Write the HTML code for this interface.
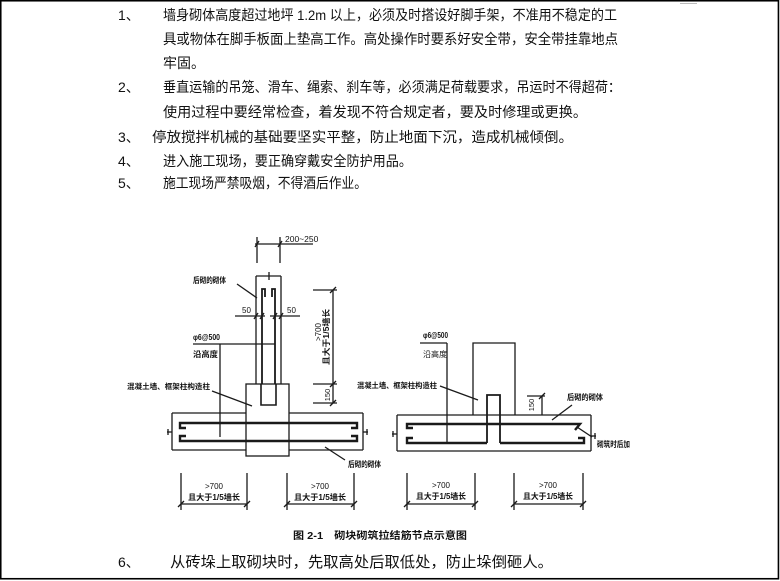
<!DOCTYPE html>
<html>
<head>
<meta charset="utf-8">
<style>
html,body{margin:0;padding:0;background:#fff;}
svg{display:block;}
.t{font-family:"Liberation Sans","Noto Sans CJK SC","WenQuanYi Zen Hei",sans-serif;fill:#111;}
.s{font-family:"Liberation Sans","Noto Sans CJK SC","WenQuanYi Zen Hei",sans-serif;fill:#111;font-weight:bold;}
</style>
</head>
<body>
<svg width="780" height="581" viewBox="0 0 780 581" xmlns="http://www.w3.org/2000/svg">
<rect x="0" y="0" width="780" height="581" fill="#fff"/>
<rect x="0.75" y="0.75" width="777.7" height="578" fill="none" stroke="#000" stroke-width="1.6"/>
<line x1="680" y1="3.5" x2="697" y2="3.5" stroke="#bbb" stroke-width="1"/>

<!-- Text block -->
<g class="t" font-size="14">
<text x="118" y="20">1、</text>
<text x="163" y="20" textLength="454" lengthAdjust="spacingAndGlyphs">墙身砌体高度超过地坪 1.2m 以上，必须及时搭设好脚手架，不准用不稳定的工</text>
<text x="163" y="44" textLength="455" lengthAdjust="spacingAndGlyphs">具或物体在脚手板面上垫高工作。高处操作时要系好安全带，安全带挂靠地点</text>
<text x="163" y="68">牢固。</text>
<text x="118" y="92">2、</text>
<text x="163" y="92" textLength="458" lengthAdjust="spacingAndGlyphs">垂直运输的吊笼、滑车、绳索、刹车等，必须满足荷载要求，吊运时不得超荷：</text>
<text x="163" y="117" textLength="424" lengthAdjust="spacingAndGlyphs">使用过程中要经常检查，着发现不符合规定者，要及时修理或更换。</text>
<text x="118" y="142">3、</text>
<text x="152" y="142" textLength="421" lengthAdjust="spacingAndGlyphs">停放搅拌机械的基础要坚实平整，防止地面下沉，造成机械倾倒。</text>
<text x="118" y="166">4、</text>
<text x="163" y="166" textLength="249" lengthAdjust="spacingAndGlyphs">进入施工现场，要正确穿戴安全防护用品。</text>
<text x="118" y="188">5、</text>
<text x="163" y="188" textLength="204" lengthAdjust="spacingAndGlyphs">施工现场严禁吸烟，不得酒后作业。</text>
<text x="118" y="567">6、</text>
<text x="170" y="567" font-size="15" textLength="383" lengthAdjust="spacingAndGlyphs">从砖垛上取砌块时，先取高处后取低处，防止垛倒砸人。</text>
</g>

<!-- Caption -->
<text class="s" x="293" y="539" font-size="10" textLength="174" lengthAdjust="spacingAndGlyphs">图 2-1　砌块砌筑拉结筋节点示意图</text>

<!-- LEFT DIAGRAM -->
<g stroke="#1a1a1a" stroke-width="1.3" fill="none">
  <line x1="255" y1="244" x2="313" y2="244"/>
  <line x1="257" y1="237" x2="257" y2="263"/>
  <line x1="280" y1="237" x2="280" y2="263"/>
  <line x1="255" y1="247" x2="259" y2="241"/>
  <line x1="278" y1="247" x2="282" y2="241"/>
  <line x1="256" y1="276" x2="281" y2="276"/>
  <line x1="269" y1="272" x2="269" y2="280"/>
  <line x1="256" y1="276" x2="256" y2="384"/>
  <line x1="281" y1="276" x2="281" y2="384"/>
  <path d="M265,297 V289 H262 V384" stroke-width="1.8"/>
  <path d="M272,297 V289 H275 V384" stroke-width="1.8"/>
  <path d="M261,384 V405 H276 V384" stroke-width="1.6"/>
  <line x1="237" y1="284" x2="257" y2="298"/>
  <line x1="235" y1="316" x2="265" y2="316"/>
  <line x1="270" y1="316" x2="300" y2="316"/>
  <line x1="254" y1="319" x2="258" y2="313"/>
  <line x1="260" y1="319" x2="264" y2="313"/>
  <line x1="273" y1="319" x2="277" y2="313"/>
  <line x1="279" y1="319" x2="283" y2="313"/>
  <line x1="193" y1="344" x2="275" y2="344"/>
  <line x1="220" y1="344" x2="220" y2="437"/>
  <line x1="212" y1="391" x2="252" y2="406"/>
  <rect x="246" y="384" width="43" height="72"/>
  <line x1="172" y1="413" x2="246" y2="413"/>
  <line x1="289" y1="413" x2="363" y2="413"/>
  <line x1="172" y1="450" x2="246" y2="450"/>
  <line x1="289" y1="450" x2="363" y2="450"/>
  <line x1="172" y1="413" x2="172" y2="450"/>
  <line x1="363" y1="413" x2="363" y2="450"/>
  <line x1="167" y1="432" x2="172" y2="432"/>
  <line x1="168" y1="429" x2="168" y2="435"/>
  <line x1="363" y1="432" x2="368" y2="432"/>
  <line x1="367" y1="429" x2="367" y2="435"/>
  <path d="M186,428 H180 V423 H357 V428 H351" stroke-width="2.4"/>
  <path d="M186,436 H180 V441 H357 V436 H351" stroke-width="2.4"/>
  <line x1="325" y1="447" x2="345" y2="460"/>
  <line x1="313" y1="290" x2="337" y2="290"/>
  <line x1="333" y1="290" x2="333" y2="403"/>
  <line x1="313" y1="384" x2="337" y2="384"/>
  <line x1="313" y1="403" x2="337" y2="403"/>
  <line x1="330" y1="293" x2="336" y2="287"/>
  <line x1="330" y1="387" x2="336" y2="381"/>
  <line x1="330" y1="406" x2="336" y2="400"/>
  <line x1="181" y1="473" x2="181" y2="510"/>
  <line x1="247" y1="473" x2="247" y2="510"/>
  <line x1="181" y1="504" x2="247" y2="504"/>
  <line x1="287" y1="473" x2="287" y2="510"/>
  <line x1="354" y1="473" x2="354" y2="510"/>
  <line x1="287" y1="504" x2="354" y2="504"/>
  <line x1="178" y1="507" x2="184" y2="501"/>
  <line x1="244" y1="507" x2="250" y2="501"/>
  <line x1="284" y1="507" x2="290" y2="501"/>
  <line x1="351" y1="507" x2="357" y2="501"/>
</g>
<g class="s" font-size="8">
  <text x="285" y="242" font-weight="normal" font-size="8.5">200~250</text>
  <text x="193" y="283" textLength="33" lengthAdjust="spacingAndGlyphs">后砌的砌体</text>
  <text x="242" y="313" font-weight="normal">50</text>
  <text x="287" y="313" font-weight="normal">50</text>
  <text x="193" y="340" textLength="27" lengthAdjust="spacingAndGlyphs">φ6@500</text>
  <text x="193" y="357" textLength="25" lengthAdjust="spacingAndGlyphs">沿高度</text>
  <text x="127" y="389" font-size="7.5" textLength="83" lengthAdjust="spacingAndGlyphs">混凝土墙、框架柱构造柱</text>
  <text x="348" y="467" textLength="33" lengthAdjust="spacingAndGlyphs">后砌的砌体</text>
  <text transform="translate(321,332) rotate(-90)" text-anchor="middle" font-weight="normal">&gt;700</text>
  <text transform="translate(329,337) rotate(-90)" text-anchor="middle" textLength="56" lengthAdjust="spacingAndGlyphs">且大于1/5墙长</text>
  <text transform="translate(330,395) rotate(-90)" text-anchor="middle" font-weight="normal" font-size="7.5">150</text>
  <text x="214" y="489" text-anchor="middle" font-weight="normal">&gt;700</text>
  <text x="214" y="500" text-anchor="middle" textLength="52" lengthAdjust="spacingAndGlyphs">且大于1/5墙长</text>
  <text x="320" y="489" text-anchor="middle" font-weight="normal">&gt;700</text>
  <text x="320" y="500" text-anchor="middle" textLength="52" lengthAdjust="spacingAndGlyphs">且大于1/5墙长</text>
</g>

<!-- RIGHT DIAGRAM -->
<g stroke="#1a1a1a" stroke-width="1.3" fill="none">
  <line x1="420" y1="343" x2="447" y2="343"/>
  <line x1="447" y1="343" x2="447" y2="444"/>
  <path d="M473,415 V343 H515 V415"/>
  <path d="M487,443 V395 H500 V443" stroke-width="1.8"/>
  <line x1="440" y1="386" x2="478" y2="400"/>
  <line x1="397" y1="415" x2="591" y2="415"/>
  <line x1="397" y1="451" x2="591" y2="451"/>
  <line x1="397" y1="415" x2="397" y2="451"/>
  <line x1="591" y1="415" x2="591" y2="451"/>
  <line x1="392" y1="434" x2="397" y2="434"/>
  <line x1="393" y1="431" x2="393" y2="437"/>
  <line x1="591" y1="436" x2="596" y2="436"/>
  <line x1="595" y1="433" x2="595" y2="439"/>
  <path d="M413,428 H407 V424 H580 L575,430" stroke-width="2.4"/>
  <path d="M413,438 H407 V443 H487" stroke-width="2.4"/>
  <path d="M500,443 H584 V438 H578" stroke-width="2.4"/>
  <line x1="527" y1="396" x2="545" y2="396"/>
  <line x1="542" y1="396" x2="542" y2="415"/>
  <line x1="539" y1="399" x2="545" y2="393"/>
  <line x1="572" y1="405" x2="552" y2="420"/>
  <line x1="577" y1="427" x2="592" y2="437"/>
  <line x1="407" y1="473" x2="407" y2="510"/>
  <line x1="475" y1="473" x2="475" y2="510"/>
  <line x1="407" y1="504" x2="475" y2="504"/>
  <line x1="514" y1="473" x2="514" y2="510"/>
  <line x1="583" y1="473" x2="583" y2="510"/>
  <line x1="514" y1="504" x2="583" y2="504"/>
  <line x1="404" y1="507" x2="410" y2="501"/>
  <line x1="472" y1="507" x2="478" y2="501"/>
  <line x1="511" y1="507" x2="517" y2="501"/>
  <line x1="580" y1="507" x2="586" y2="501"/>
</g>
<g class="s" font-size="8">
  <text x="423" y="338" textLength="25" lengthAdjust="spacingAndGlyphs">φ6@500</text>
  <text x="423" y="357" font-weight="normal" textLength="24" lengthAdjust="spacingAndGlyphs">沿高度</text>
  <text x="437" y="388" text-anchor="end" font-size="7.5" textLength="80" lengthAdjust="spacingAndGlyphs">混凝土墙、框架柱构造柱</text>
  <text x="567" y="400" textLength="36" lengthAdjust="spacingAndGlyphs">后砌的砌体</text>
  <text x="597" y="447" textLength="33" lengthAdjust="spacingAndGlyphs">砌筑时后加</text>
  <text transform="translate(534,405) rotate(-90)" text-anchor="middle" font-weight="normal" font-size="7.5">150</text>
  <text x="441" y="488" text-anchor="middle" font-weight="normal">&gt;700</text>
  <text x="441" y="499" text-anchor="middle" textLength="50" lengthAdjust="spacingAndGlyphs">且大于1/5墙长</text>
  <text x="548" y="488" text-anchor="middle" font-weight="normal">&gt;700</text>
  <text x="548" y="499" text-anchor="middle" textLength="50" lengthAdjust="spacingAndGlyphs">且大于1/5墙长</text>
</g>
</svg>
</body>
</html>
